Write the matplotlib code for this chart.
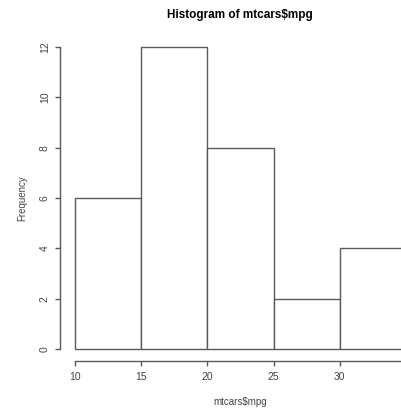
import matplotlib.pyplot as plt

# mpg histogram, bins of width 5
bin_edges = [10, 15, 20, 25, 30, 35]
counts = [6, 12, 8, 2, 4]
x_ticks = [10, 15, 20, 25, 30, 35]
y_ticks = [0, 2, 4, 6, 8, 10, 12]

plt.rcParams['font.family'] = ['Liberation Sans', 'DejaVu Sans']
line_col = '#5a5a5a'
text_col = '#444444'

fig = plt.figure(figsize=(4.01, 4.09), dpi=100)
ax = fig.add_axes([75 / 401, 60 / 409, 331 / 401, 302 / 409])

widths = [bin_edges[i + 1] - bin_edges[i] for i in range(len(counts))]
bars = ax.bar(bin_edges[:-1], counts, width=widths, align='edge',
              color='white', edgecolor=line_col, linewidth=1.0)
for b in bars:
    b.set_clip_on(False)

ax.set_xlim(10, 35)
ax.set_ylim(0, 12)

for s in ['top', 'right']:
    ax.spines[s].set_visible(False)
ax.spines['left'].set_position(('outward', 10.5))
ax.spines['bottom'].set_position(('outward', 8.6))
ax.spines['left'].set_bounds(0, 12)
ax.spines['bottom'].set_bounds(10, 35)
for s in ['left', 'bottom']:
    ax.spines[s].set_color(line_col)
    ax.spines[s].set_linewidth(1.0)

ax.set_xticks(x_ticks)
ax.set_yticks(y_ticks)
ax.tick_params(colors=line_col, labelcolor=text_col, labelsize=7.5,
               length=3.6, width=1.0, pad=4)
ax.tick_params(axis='y', labelrotation=90)
for lab in ax.get_yticklabels():
    lab.set_verticalalignment('center')

ax.set_xlabel('mtcars$mpg', fontsize=7, color=text_col, labelpad=11)
ax.set_ylabel('Frequency', fontsize=7, color=text_col, labelpad=9)
fig.text(240 / 401, 1 - 15 / 409, 'Histogram of mtcars$mpg',
         ha='center', va='center', fontsize=8.5, fontweight='bold')

fig.savefig('out.png', dpi=100)
